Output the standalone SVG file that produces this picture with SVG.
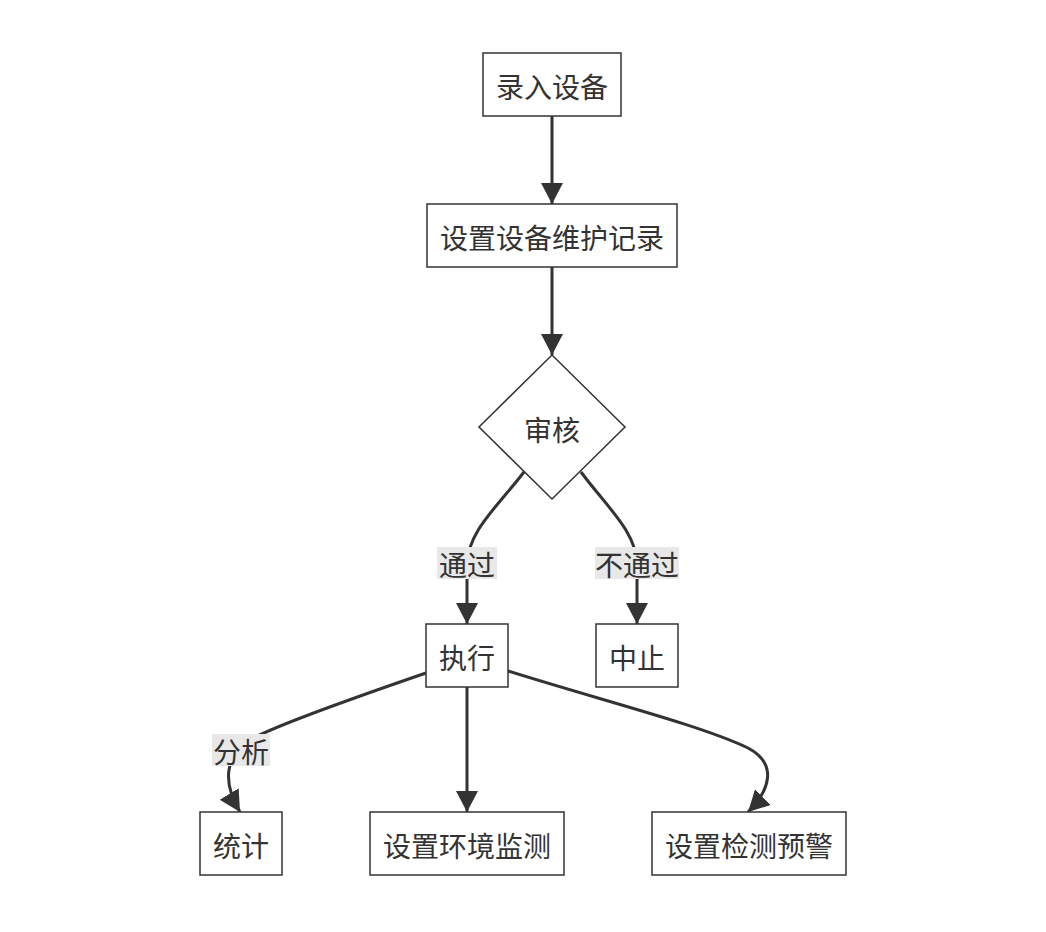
<svg xmlns="http://www.w3.org/2000/svg" width="1046" height="932" viewBox="0 0 1046 932">
<style>
.box{fill:#fff;stroke:#333;stroke-width:1.5}
.t{font-family:"Noto Sans CJK SC","Liberation Sans",sans-serif;font-size:28px;fill:#333;text-anchor:middle;dominant-baseline:central}
.e{fill:none;stroke:#333;stroke-width:3}
.lb{fill:#e8e8e8}
</style>
<defs>
<marker id="ah" markerUnits="userSpaceOnUse" markerWidth="24" markerHeight="24" refX="21" refY="11" orient="auto">
<path d="M0,0 L21,11 L0,22 Z" fill="#333"/>
</marker>
</defs>
<rect width="1046" height="932" fill="#fff"/>
<g id="edges">
<path class="e" d="M552,116 L552,204" marker-end="url(#ah)"/>
<path class="e" d="M552,267 L552,355" marker-end="url(#ah)"/>
<path class="e" d="M524,472 C498,506 467,532 467,565 L467,624" marker-end="url(#ah)"/>
<path class="e" d="M581,472 C606,506 637,532 637,565 L637,624" marker-end="url(#ah)"/>
<path class="e" d="M426,673 C330,706 270,728 250,740 C225,756 222,782 240,812" marker-end="url(#ah)"/>
<path class="e" d="M467,687 L467,812" marker-end="url(#ah)"/>
<path class="e" d="M508,671 C600,700 700,725 748,748 C778,764 770,790 748,812" marker-end="url(#ah)"/>
</g>
<g id="labels">
<rect class="lb" x="437" y="547" width="60" height="32"/>
<text class="t" x="467" y="564">通过</text>
<rect class="lb" x="595" y="547" width="84" height="32"/>
<text class="t" x="637" y="564">不通过</text>
<rect class="lb" x="212" y="734" width="58" height="32"/>
<text class="t" x="241" y="751">分析</text>
</g>
<g id="n1"><rect class="box" x="483" y="53" width="138" height="63"/><text class="t" x="552" y="86">录入设备</text></g>
<g id="n2"><rect class="box" x="427" y="204" width="250" height="63"/><text class="t" x="552" y="237">设置设备维护记录</text></g>
<g id="n3"><polygon class="box" points="552,355 625,427 552,499 479,427"/><text class="t" x="552" y="429">审核</text></g>
<g id="n4"><rect class="box" x="426" y="624" width="82" height="63"/><text class="t" x="467" y="657">执行</text></g>
<g id="n5"><rect class="box" x="596" y="624" width="82" height="63"/><text class="t" x="637" y="657">中止</text></g>
<g id="n6"><rect class="box" x="200" y="812" width="82" height="63"/><text class="t" x="241" y="845">统计</text></g>
<g id="n7"><rect class="box" x="370" y="812" width="194" height="63"/><text class="t" x="467" y="845">设置环境监测</text></g>
<g id="n8"><rect class="box" x="652" y="812" width="194" height="63"/><text class="t" x="749" y="845">设置检测预警</text></g>
</svg>
